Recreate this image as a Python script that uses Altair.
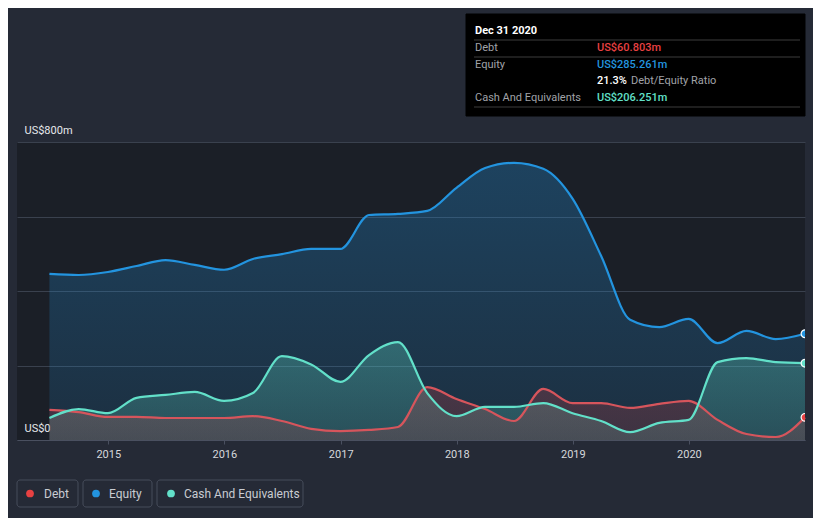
import altair as alt
import pandas as pd

dates = [
    "2014-06-30", "2014-09-30", "2014-12-31",
    "2015-03-31", "2015-06-30", "2015-09-30", "2015-12-31",
    "2016-03-31", "2016-06-30", "2016-09-30", "2016-12-31",
    "2017-03-31", "2017-06-30", "2017-09-30", "2017-12-31",
    "2018-03-31", "2018-06-30", "2018-09-30", "2018-12-31",
    "2019-03-31", "2019-06-30", "2019-09-30", "2019-12-31",
    "2020-03-31", "2020-06-30", "2020-09-30", "2020-12-31",
]
debt = [81, 75, 62, 62, 59, 59, 59, 64, 51, 30, 24, 27, 35, 142, 110, 83,
        51, 137, 99, 99, 86, 97, 105, 54, 16, 8, 60.803]
equity = [446, 443, 451, 467, 483, 470, 457, 486, 499, 513, 513, 604, 607,
          615, 677, 730, 744, 728, 648, 494, 323, 303, 325, 260, 293, 271, 285.261]
cash = [59, 83, 72, 113, 121, 129, 105, 126, 225, 203, 156, 228, 263, 126,
        64, 89, 89, 99, 72, 51, 21, 46, 54, 209, 220, 209, 206.251]

series_names = ["Debt", "Equity", "Cash And Equivalents"]
line_colors = {"Debt": "#d6555c", "Equity": "#2394df", "Cash And Equivalents": "#62e0c9"}
dot_colors = {"Debt": "#e84142", "Equity": "#2394df", "Cash And Equivalents": "#62e0c9"}
rgb = {"Debt": "232,65,66", "Equity": "35,148,223", "Cash And Equivalents": "98,224,201"}
op_top = {"Debt": 0.22, "Equity": 0.30, "Cash And Equivalents": 0.30}
op_bot = {"Debt": 0.16, "Equity": 0.14, "Cash And Equivalents": 0.18}

tooltip_date = "Dec 31 2020"
tooltip_debt = "US$60.803m"
tooltip_equity = "US$285.261m"
tooltip_ratio = "21.3%"
tooltip_cash = "US$206.251m"

y_ticks = [0, 200, 400, 600, 800]
x_ticks = ["2015-01-01", "2016-01-01", "2017-01-01", "2018-01-01", "2019-01-01", "2020-01-01"]

frames = []
for name, vals in zip(series_names, [debt, equity, cash]):
    frames.append(pd.DataFrame({"date": pd.to_datetime(dates), "value": vals, "series": name}))
df = pd.concat(frames, ignore_index=True)

FONT = "Roboto"

x_enc = alt.X(
    "date:T",
    scale=alt.Scale(domain=["2014-03-20", "2020-12-31"]),
    axis=alt.Axis(
        values=x_ticks, format="%Y", title=None, grid=False,
        domainColor="#4a5060", tickColor="#4a5060", tickSize=4,
        labelColor="#d6d8dc", labelFontSize=11, labelPadding=4, labelFont=FONT,
    ),
)
y_enc = alt.Y(
    "value:Q",
    stack=None,
    scale=alt.Scale(domain=[0, 800], nice=False),
    axis=alt.Axis(
        values=y_ticks, title=None, domain=False, ticks=False,
        gridColor="#3a414e", gridWidth=1,
        labelExpr="datum.value == 0 ? 'US$0' : (datum.value == 800 ? 'US$800m' : '')",
        labelAlign="left", labelPadding=-7, labelBaseline="alphabetic", labelOffset=-9,
        labelColor="#e6e8eb", labelFontSize=11, labelFont=FONT,
    ),
)

def grad(name):
    return alt.Gradient(
        gradient="linear", x1=0, y1=0, x2=0, y2=1,
        stops=[
            alt.GradientStop(offset=0, color=f"rgba({rgb[name]},{op_top[name]})"),
            alt.GradientStop(offset=1, color=f"rgba({rgb[name]},{op_bot[name]})"),
        ],
    )

base = alt.Chart(df)
layers = []
for name in ["Equity", "Cash And Equivalents", "Debt"]:
    layers.append(
        base.transform_filter(alt.datum.series == name)
        .mark_area(interpolate="monotone", color=grad(name))
        .encode(x=x_enc, y=y_enc)
    )
for name in ["Debt", "Equity", "Cash And Equivalents"]:
    layers.append(
        base.transform_filter(alt.datum.series == name)
        .mark_line(interpolate="monotone", color=line_colors[name], strokeWidth=2.2)
        .encode(x="date:T", y=alt.Y("value:Q", stack=None))
    )
last = df[df["date"] == df["date"].max()]
layers.append(
    alt.Chart(last).mark_point(filled=True, size=60, stroke="white", strokeWidth=1.2, opacity=1, clip=True)
    .encode(
        x="date:T", y="value:Q",
        fill=alt.Fill("series:N", scale=alt.Scale(domain=series_names, range=[dot_colors[s] for s in series_names]), legend=None),
    )
)

# Tooltip box (relative to plot origin)
one = pd.DataFrame({"a": [0]})
layers.append(
    alt.Chart(one).mark_rect(fill="#000000", stroke="#000000")
    .encode(x=alt.value(449), x2=alt.value(788), y=alt.value(-128), y2=alt.value(-26))
)
for yy in [-102, -85, -35]:
    layers.append(
        alt.Chart(one).mark_rule(color="#3c3c3c", strokeWidth=1)
        .encode(x=alt.value(457), x2=alt.value(783), y=alt.value(yy))
    )

def txt(s, x, y, color, weight="normal", size=11):
    return alt.Chart(pd.DataFrame({"t": [s]})).mark_text(
        align="left", baseline="middle", color=color, fontSize=size, font=FONT,
        fontWeight=weight,
    ).encode(text="t:N", x=alt.value(x), y=alt.value(y))

layers += [
    txt(tooltip_date, 458, -111, "#ffffff", weight="bold"),
    txt("Debt", 458, -94, "#a0a3a8"),
    txt(tooltip_debt, 580, -94, "#e84142", weight=500),
    txt("Equity", 458, -77, "#a0a3a8"),
    txt(tooltip_equity, 580, -77, "#2394df", weight=500),
    txt(tooltip_ratio, 580, -61, "#ffffff", weight=500),
    txt("Debt/Equity Ratio", 614, -61, "#a0a3a8"),
    txt("Cash And Equivalents", 458, -44, "#a0a3a8"),
    txt(tooltip_cash, 580, -44, "#62e0c9", weight=500),
]

# Legend boxes below the plot
legend_boxes = [(0, 61, 13, 27), (66, 135, 79, 92), (140, 286, 154, 167)]
for name, (bx1, bx2, dx, tx) in zip(series_names, legend_boxes):
    layers.append(
        alt.Chart(one).mark_rect(fill="#252a36", stroke="#464c5a", strokeWidth=1, cornerRadius=3)
        .encode(x=alt.value(bx1), x2=alt.value(bx2), y=alt.value(338), y2=alt.value(365))
    )
    layers.append(
        alt.Chart(one).mark_point(filled=True, size=60, color=dot_colors[name], opacity=1)
        .encode(x=alt.value(dx), y=alt.value(351.5))
    )
    layers.append(txt(name, tx, 351.5, "#c9ccd2", size=12))

chart = alt.layer(*layers).properties(
    width=788, height=298,
    background="#252a36",
    padding={"left": 9, "top": 134, "right": 8, "bottom": 78},
    autosize=alt.AutoSizeParams(type="none"),
).configure_view(fill="#1b1f27", stroke=None)

chart.save("out.html", embed_options={"renderer": "svg", "actions": False})
